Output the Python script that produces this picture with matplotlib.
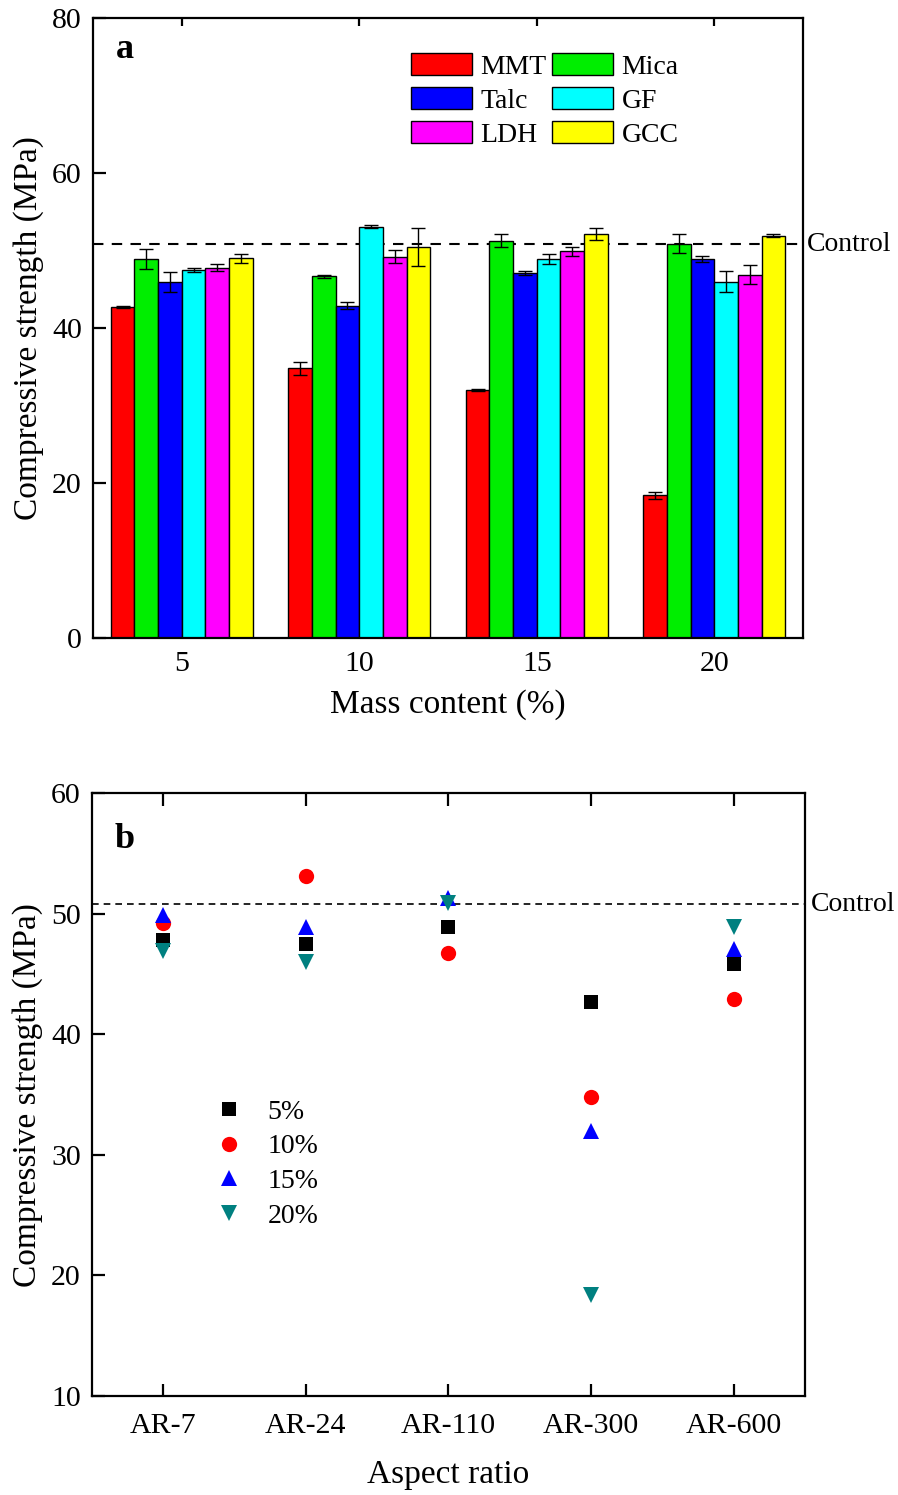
import matplotlib
matplotlib.use("Agg")
import matplotlib.pyplot as plt
import numpy as np
from matplotlib.patches import Patch

# panel a: compressive strength by filler and mass content
mass_content = ["5", "10", "15", "20"]
fillers = ["MMT", "Mica", "Talc", "GF", "LDH", "GCC"]
filler_colors = ["#FF0000", "#00EE00", "#0000FF", "#00FFFF", "#FF00FF", "#FFFF00"]
strength = {
    "MMT": [42.7, 34.8, 32.0, 18.4],
    "Mica": [48.9, 46.7, 51.3, 50.9],
    "Talc": [45.9, 42.9, 47.1, 48.9],
    "GF": [47.5, 53.1, 48.9, 46.0],
    "LDH": [47.8, 49.2, 49.9, 46.9],
    "GCC": [49.0, 50.4, 52.1, 51.9],
}
strength_err = {
    "MMT": [0.15, 0.8, 0.15, 0.4],
    "Mica": [1.3, 0.2, 0.8, 1.25],
    "Talc": [1.3, 0.5, 0.25, 0.35],
    "GF": [0.3, 0.25, 0.6, 1.35],
    "LDH": [0.45, 0.85, 0.6, 1.25],
    "GCC": [0.6, 2.45, 0.75, 0.2],
}
control_strength = 50.8

# panel b: same data against aspect ratio
aspect_ratio = ["AR-7", "AR-24", "AR-110", "AR-300", "AR-600"]
content_labels = ["5%", "10%", "15%", "20%"]
ar_5 = [47.8, 47.5, 48.9, 42.7, 45.8]
ar_10 = [49.2, 53.1, 46.7, 34.8, 42.9]
ar_15 = [49.9, 48.9, 51.3, 32.0, 47.1]
ar_20 = [46.9, 46.0, 50.9, 18.4, 48.9]
markers = ["s", "o", "^", "v"]
marker_sizes = [10, 11, 12, 12]
marker_colors = ["#000000", "#FF0000", "#0000FF", "#008080"]

plt.rcParams["font.family"] = ["Liberation Serif", "DejaVu Serif"]
plt.rcParams["font.size"] = 20
plt.rcParams["axes.linewidth"] = 1.6

TICK_FS = 21.5
LABEL_FS = 24

fig = plt.figure(figsize=(8.98, 14.95), dpi=100)

# ---------- panel a ----------
ax1 = fig.add_axes([0.1036, 0.5732, 0.7906, 0.4147])
x = np.arange(len(mass_content))
bar_w = 0.8 / len(fillers)
handles = []
for i, (name, color) in enumerate(zip(fillers, filler_colors)):
    pos = x - 0.4 + bar_w * (i + 0.5)
    ax1.bar(pos, strength[name], bar_w, color=color, edgecolor="black",
            linewidth=1.0, zorder=2)
    ax1.errorbar(pos, strength[name], yerr=strength_err[name], fmt="none",
                 ecolor="black", elinewidth=1.0, capsize=5, capthick=1.0, zorder=3)
    handles.append(Patch(facecolor=color, edgecolor="black", linewidth=1.0, label=name))

ax1.axhline(control_strength, color="black", linestyle=(0, (5, 4)), linewidth=1.5, zorder=1)
ax1.text(1.005, control_strength, "Control", transform=ax1.get_yaxis_transform(),
         ha="left", va="center", fontsize=20)

ax1.set_xlim(-0.5, 3.5)
ax1.set_ylim(0, 80)
ax1.set_xticks(x)
ax1.set_xticklabels(mass_content)
ax1.set_yticks([0, 20, 40, 60, 80])
ax1.tick_params(axis="y", direction="in", length=9, width=1.6, pad=8,
                right=False, labelsize=TICK_FS)
ax1.tick_params(axis="x", direction="in", length=6, width=1.6, pad=9, top=True,
                labelsize=TICK_FS)
ax1.set_xlabel("Mass content (%)", fontsize=LABEL_FS, labelpad=9)
ax1.set_ylabel("Compressive strength (MPa)", fontsize=LABEL_FS, labelpad=6)
ax1.text(0.032, 0.935, "a", transform=ax1.transAxes, fontsize=26, fontweight="bold",
         ha="left", va="baseline")

order = [0, 2, 4, 1, 3, 5]
ax1.legend([handles[k] for k in order], [fillers[k] for k in order], ncol=2,
           loc="upper left", bbox_to_anchor=(0.448, 0.944), frameon=False,
           handlelength=2.2, handleheight=0.85, handletextpad=0.3,
           columnspacing=0.2, labelspacing=0.27, borderpad=0, borderaxespad=0)

# ---------- panel b ----------
ax2 = fig.add_axes([0.1024, 0.0662, 0.794, 0.4033])
xb = np.arange(len(aspect_ratio))
series = [ar_5, ar_10, ar_15, ar_20]
for vals, mk, ms, col, lab in zip(series, markers, marker_sizes, marker_colors, content_labels):
    ax2.plot(xb, vals, linestyle="none", marker=mk, color=col, markersize=ms,
             markeredgewidth=0, label=lab, zorder=3)

ax2.axhline(control_strength, color="black", linestyle=(0, (4, 3)), linewidth=1.2, zorder=1)
ax2.text(1.008, control_strength, "Control", transform=ax2.get_yaxis_transform(),
         ha="left", va="center", fontsize=20)

ax2.set_xlim(-0.5, 4.5)
ax2.set_ylim(10, 60)
ax2.set_xticks(xb)
ax2.set_xticklabels(aspect_ratio)
ax2.set_yticks([10, 20, 30, 40, 50, 60])
ax2.tick_params(axis="y", direction="in", length=9, width=1.6, pad=8, right=False,
                labelsize=TICK_FS)
ax2.tick_params(axis="x", direction="in", length=9, width=1.6, pad=12, top=True,
                labelsize=TICK_FS)
ax2.set_xlabel("Aspect ratio", fontsize=LABEL_FS, labelpad=15)
ax2.set_ylabel("Compressive strength (MPa)", fontsize=LABEL_FS, labelpad=6)
ax2.text(0.032, 0.909, "b", transform=ax2.transAxes, fontsize=26, fontweight="bold",
         ha="left", va="baseline")
ax2.legend(loc="upper left", bbox_to_anchor=(0.1725, 0.492), frameon=False,
           handlelength=1.0, handletextpad=0.9, labelspacing=0.33,
           borderpad=0, borderaxespad=0)

fig.savefig("out.png", dpi=100)
